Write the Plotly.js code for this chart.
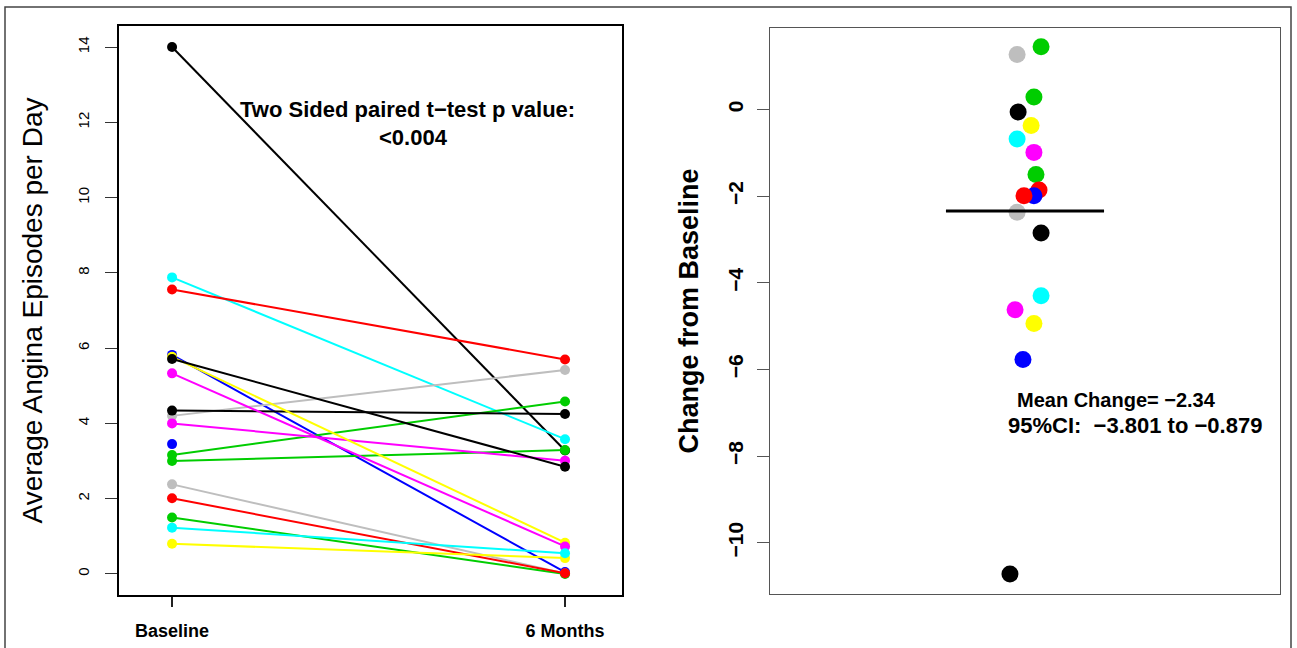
<!DOCTYPE html>
<html>
<head>
<meta charset="utf-8">
<script src="https://cdn.plot.ly/plotly-3.0.1.min.js"></script>
<style>html,body{margin:0;padding:0;background:#fff;}#chart{width:1297px;height:648px;}</style>
</head>
<body>
<div id="chart"></div>
<script>
// ---- Data ----
const timepoints = ['Baseline', '6 Months'];
const subjectColors = ['#0000FF','#BEBEBE','#00CD00','#FF0000','#000000','#00CD00','#00FFFF','#FF0000','#BEBEBE','#00CD00','#000000','#FF00FF','#FFFF00','#000000','#FF00FF','#FFFF00','#00FFFF','#0000FF'];
const baselineVals = [5.82, 2.38, 1.50, 2.01, 14.0, 3.00, 7.88, 7.56, 4.20, 3.16, 4.34, 4.00, 5.77, 5.71, 5.33, 0.80, 1.23, 3.45];
const sixMonthVals = [0.05, 0.01, 0.00, 0.02, 3.28, 3.29, 3.58, 5.70, 5.42, 4.58, 4.25, 3.01, 0.83, 2.85, 0.73, 0.42, 0.55, null];

const changeVals   = [1.27, 1.45, 0.29, -0.06, -0.37, -0.68, -0.99, -1.50, -1.86, -1.99, -1.99, -2.37, -2.85, -4.30, -4.62, -4.94, -5.77, -10.72];
const changeJitter = [0.969, 1.063, 1.035, 0.973, 1.024, 0.969, 1.035, 1.043, 1.055, 1.035, 0.996, 0.969, 1.063, 1.063, 0.961, 1.035, 0.992, 0.941];
const changeColors = ['#BEBEBE','#00CD00','#00CD00','#000000','#FFFF00','#00FFFF','#FF00FF','#00CD00','#FF0000','#0000FF','#FF0000','#BEBEBE','#000000','#00FFFF','#FF00FF','#FFFF00','#0000FF','#000000'];
const meanChange = -2.34;
const ciLow = -3.801, ciHigh = -0.879;
const pValueText = '<0.004';

const leftTicks = [0, 2, 4, 6, 8, 10, 12, 14];
const rightTicks = [0, -2, -4, -6, -8, -10];

// ---- Traces ----
const traces = [];
baselineVals.forEach((b, i) => {
  const s = sixMonthVals[i];
  traces.push({
    x: s === null ? [1] : [1, 2],
    y: s === null ? [b] : [b, s],
    xaxis: 'x', yaxis: 'y',
    mode: s === null ? 'markers' : 'lines+markers',
    line: {color: subjectColors[i], width: 2},
    marker: {color: subjectColors[i], size: 10},
    showlegend: false, hoverinfo: 'skip'
  });
});
changeVals.forEach((v, i) => {
  traces.push({
    x: [changeJitter[i]], y: [v],
    xaxis: 'x2', yaxis: 'y2', mode: 'markers',
    marker: {color: changeColors[i], size: 17},
    showlegend: false, hoverinfo: 'skip'
  });
});

const W = 1297, H = 648;
const font = 'Liberation Sans, Arial, Helvetica, sans-serif';
const esc = t => t.replace(/</g, '&lt;');
const fmt = v => (v < 0 ? '\u2212' + Math.abs(v) : String(v));
const sp = '\u00a0';

const layout = {
  width: W, height: H,
  margin: {l: 0, r: 0, t: 0, b: 0},
  paper_bgcolor: '#fff', plot_bgcolor: '#fff',
  font: {family: font, color: '#000'},
  showlegend: false,
  xaxis: {
    domain: [119 / W, 622 / W], range: [0.865, 2.145], anchor: 'y',
    tickvals: [1, 2], ticktext: timepoints,
    ticks: 'outside', ticklen: 10, tickwidth: 1.5, tickcolor: '#222',
    tickfont: {size: 18, family: font, weight: 'bold'}, ticklabelstandoff: 8,
    showline: true, mirror: true, linecolor: '#000', linewidth: 2,
    showgrid: false, zeroline: false, automargin: false
  },
  yaxis: {
    domain: [1 - 595 / H, 1 - 26 / H], range: [-0.56, 14.56], anchor: 'x',
    tickvals: leftTicks, ticktext: leftTicks.map(String), tickangle: -90,
    ticks: 'outside', ticklen: 12, tickwidth: 1, tickcolor: '#333',
    tickfont: {size: 15, family: font}, ticklabelstandoff: 10,
    showline: true, mirror: true, linecolor: '#000', linewidth: 2,
    showgrid: false, zeroline: false, automargin: false,
    title: {text: 'Average Angina Episodes per Day', font: {size: 28, family: font}, standoff: 24}
  },
  xaxis2: {
    domain: [770 / W, 1280 / W], range: [0, 2], anchor: 'y2',
    showticklabels: false, ticks: '',
    showline: true, mirror: true, linecolor: '#555', linewidth: 1,
    showgrid: false, zeroline: false, automargin: false
  },
  yaxis2: {
    domain: [1 - 594 / H, 1 - 28 / H], range: [-11.18, 1.88], anchor: 'x2',
    tickvals: rightTicks, ticktext: rightTicks.map(fmt), tickangle: -90,
    ticks: 'outside', ticklen: 12, tickwidth: 1, tickcolor: '#555',
    tickfont: {size: 21, family: font, weight: 'bold'}, ticklabelstandoff: 6,
    showline: true, mirror: true, linecolor: '#555', linewidth: 1,
    showgrid: false, zeroline: false, automargin: false,
    title: {text: 'Change from Baseline', font: {size: 27, family: font, weight: 'bold'}, standoff: 17}
  },
  shapes: [
    {type: 'rect', xref: 'paper', yref: 'paper', x0: 5 / W, x1: 1291 / W, y0: -0.2, y1: 1 - 7 / H,
     line: {color: '#444', width: 1.5}, fillcolor: 'rgba(0,0,0,0)', layer: 'below'},
    {type: 'line', xref: 'x2', yref: 'y2', x0: 0.69, x1: 1.31, y0: meanChange, y1: meanChange,
     line: {color: '#000', width: 3}}
  ],
  annotations: [
    {xref: 'x', yref: 'y', x: 1.60, y: 12.34, text: '<b>Two Sided paired t\u2212test p value:</b>',
     showarrow: false, font: {size: 22, family: font}, xanchor: 'center', yanchor: 'middle'},
    {xref: 'x', yref: 'y', x: 1.615, y: 11.6, text: '<b>' + esc(pValueText) + '</b>',
     showarrow: false, font: {size: 22, family: font}, xanchor: 'center', yanchor: 'middle'},
    {xref: 'x2', yref: 'y2', x: 1.36, y: -6.70, text: '<b>Mean Change= ' + fmt(meanChange) + '</b>',
     showarrow: false, font: {size: 20, family: font}, xanchor: 'center', yanchor: 'middle'},
    {xref: 'x2', yref: 'y2', x: 1.43, y: -7.30, text: '<b>95%CI:' + sp + sp + fmt(ciLow) + ' to ' + fmt(ciHigh) + '</b>',
     showarrow: false, font: {size: 22, family: font}, xanchor: 'center', yanchor: 'middle'}
  ]
};

Plotly.newPlot('chart', traces, layout, {displayModeBar: false, staticPlot: true});
</script>
</body>
</html>
